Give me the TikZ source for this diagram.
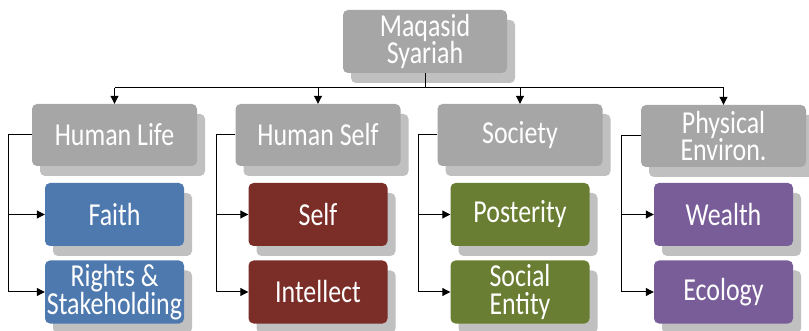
\documentclass[tikz,border=0pt]{standalone}
\usepackage{fontspec}
\newfontfamily\boxfont[FakeStretch=0.81]{Carlito}
\usetikzlibrary{arrows.meta,shadows}
\definecolor{boxgray}{HTML}{A6A6A6}
\definecolor{shgray}{HTML}{C0C0C0}
\definecolor{cblue}{HTML}{4E79AF}
\definecolor{cred}{HTML}{7A2E27}
\definecolor{cgreen}{HTML}{697E32}
\definecolor{cpurple}{HTML}{785D99}
\tikzset{
  box/.style={rounded corners=5pt, inner sep=0pt, align=center, text=white,
    font=\boxfont\fontsize{32}{27.5}\selectfont,
    drop shadow={shadow xshift=8pt, shadow yshift=-10pt, fill=shgray, opacity=1}},
  lvl1/.style={box, fill=boxgray, minimum width=164pt, minimum height=63pt},
  lvl2/.style={box, fill=boxgray, minimum width=165pt, minimum height=62pt},
  lvl3/.style={box, minimum width=139pt, minimum height=63pt},
  conn/.style={line width=1pt, black},
  arr/.style={conn, -{Triangle[length=8pt,width=8pt]}}
}
\begin{document}
\begin{tikzpicture}[x=1pt,y=-1pt]
\useasboundingbox (0,0) rectangle (809,331);
\node[lvl1] (root) at (425,41.5) {Maqasid\\Syariah};
\node[lvl2] (hl) at (114.5,135) {Human Life};
\node[lvl2] (hs) at (318,135) {Human Self};
\node[lvl2] (so) at (520,135) {Society};
\node[lvl2] (pe) at (723.5,136) {Physical\\Environ.};
\node[lvl3, fill=cblue] (fa) at (114.5,214.5) {Faith};
\node[lvl3, fill=cblue] (ri) at (114.5,292) {Rights \&\\Stakeholding};
\node[lvl3, fill=cred] (se) at (318,214.5) {Self};
\node[lvl3, fill=cred] (in) at (318,292) {Intellect};
\node[lvl3, fill=cgreen] (po) at (520,214.5) {Posterity};
\node[lvl3, fill=cgreen] (sc) at (520,292) {Social\\Entity};
\node[lvl3, fill=cpurple] (we) at (723.5,214.5) {Wealth};
\node[lvl3, fill=cpurple] (ec) at (723.5,292) {Ecology};
\coordinate (j) at (425,88);
\draw[conn] (root.south) -- (j);
\draw[conn] (hl.north |- j) -- (pe.north |- j);
\foreach \n in {hl,hs,so,pe}{\draw[arr] (\n.north |- j) -- (\n.north);}
\foreach \p/\a/\b/\d in {hl/fa/ri/36, hs/se/in/32, so/po/sc/32, pe/we/ec/32}{
  \draw[arr] (\p.west) -| ([xshift=-\d pt]\b.west) -- (\b.west);
  \draw[arr] ([xshift=-\d pt]\a.west) -- (\a.west);
}
\end{tikzpicture}
\end{document}
